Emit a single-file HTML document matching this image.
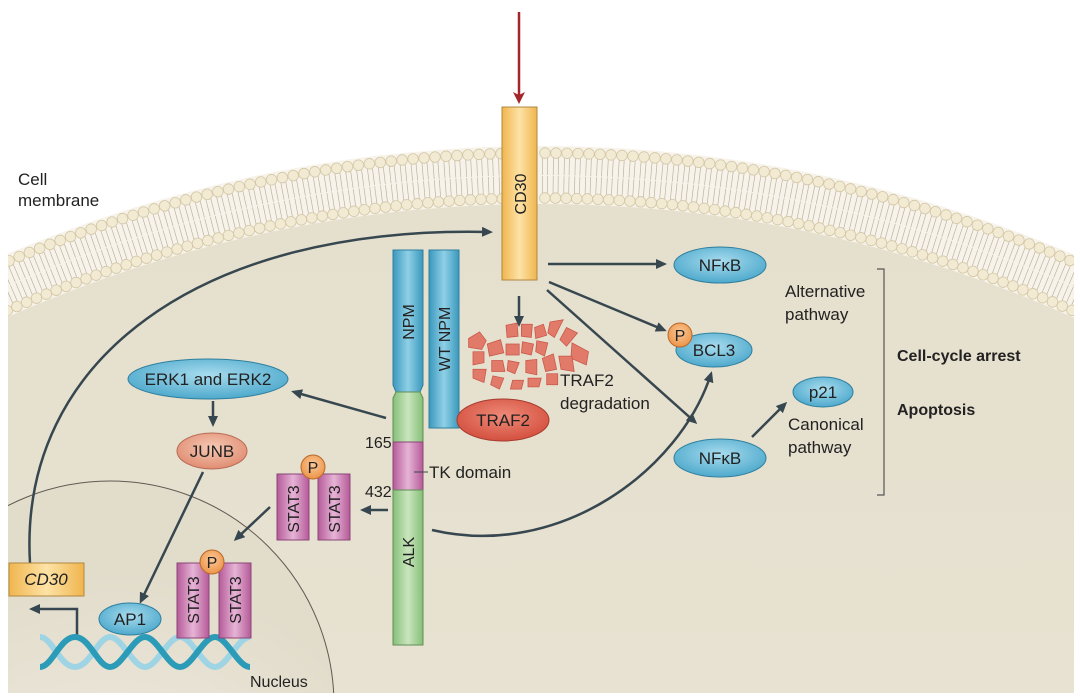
<!DOCTYPE html>
<html><head><meta charset="utf-8"><style>
html,body{margin:0;padding:0;background:#fff;width:1080px;height:697px;overflow:hidden;}
svg{display:block;font-family:"Liberation Sans",sans-serif;}
</style></head><body>
<svg id="s" width="1080" height="697" viewBox="0 0 1080 697" xmlns="http://www.w3.org/2000/svg">
<defs>
<clipPath id="cell"><rect x="8" y="0" width="1066" height="693"/></clipPath>
<linearGradient id="cellg" x1="0" y1="0" x2="0" y2="1"><stop offset="0" stop-color="#e5dfcd"/><stop offset="1" stop-color="#f1ede3"/></linearGradient>
<linearGradient id="og" x1="0" x2="1"><stop offset="0" stop-color="#f0b54e"/><stop offset=".5" stop-color="#fde3a6"/><stop offset="1" stop-color="#f0b54e"/></linearGradient>
<linearGradient id="bg" x1="0" x2="1"><stop offset="0" stop-color="#3a98bd"/><stop offset=".5" stop-color="#8fd0e6"/><stop offset="1" stop-color="#3a98bd"/></linearGradient>
<linearGradient id="gg" x1="0" x2="1"><stop offset="0" stop-color="#86bf78"/><stop offset=".5" stop-color="#c9e6bd"/><stop offset="1" stop-color="#86bf78"/></linearGradient>
<linearGradient id="pg" x1="0" x2="1"><stop offset="0" stop-color="#b55a98"/><stop offset=".5" stop-color="#e6b4d6"/><stop offset="1" stop-color="#b55a98"/></linearGradient>
<radialGradient id="be" cx=".5" cy=".4" r=".6"><stop offset="0" stop-color="#a8dcee"/><stop offset="1" stop-color="#4ea9cc"/></radialGradient>
<radialGradient id="pe" cx=".5" cy=".4" r=".6"><stop offset="0" stop-color="#f6c9b4"/><stop offset="1" stop-color="#e08d72"/></radialGradient>
<radialGradient id="re" cx=".5" cy=".4" r=".6"><stop offset="0" stop-color="#ee8a78"/><stop offset="1" stop-color="#d4503f"/></radialGradient>
<radialGradient id="oc" cx=".5" cy=".4" r=".6"><stop offset="0" stop-color="#fbc89a"/><stop offset="1" stop-color="#ec9447"/></radialGradient>
<radialGradient id="nuc" cx=".5" cy=".9" r=".7"><stop offset="0" stop-color="#f3efe6"/><stop offset="1" stop-color="#e2dccb"/></radialGradient>
<marker id="ah" markerWidth="11" markerHeight="10" refX="8" refY="5" orient="auto" markerUnits="userSpaceOnUse"><path d="M0,0 L11,5 L0,10 Z" fill="#37474f"/></marker>
<marker id="ahr" markerWidth="12" markerHeight="12" refX="8" refY="6" orient="auto" markerUnits="userSpaceOnUse"><path d="M0,0 L12,6 L0,12 L3,6Z" fill="#a3262a"/></marker>
</defs>
<g clip-path="url(#cell)">
<circle cx="540" cy="1514" r="1368" fill="#f7f3ea"/>
<g id="mem"></g>
<circle cx="540" cy="1514" r="1310" fill="url(#cellg)"/>
<circle cx="110" cy="705" r="224" fill="url(#nuc)" stroke="#5f5a52" stroke-width="1"/>
</g>
<line x1="519" y1="12" x2="519" y2="100" stroke="#a3262a" stroke-width="2.5" marker-end="url(#ahr)"/>
<path d="M30,563 C18,360 200,225 490,232" fill="none" stroke="#37474f" stroke-width="2.5" marker-end="url(#ah)"/>
<rect x="502" y="107" width="35" height="173" fill="url(#og)" stroke="#b08840"/>
<text transform="translate(526,194) rotate(-90)" text-anchor="middle" font-size="16" fill="#222">CD30</text>
<g fill="#e27a6a" stroke="#c9574a" stroke-width=".7" transform="translate(528,355) scale(1.1) translate(-520,-355)">
<path d="M466,340 l10,-6 6,8 -4,8 -12,-2z"/><path d="M470,352 l10,0 0,10 -10,2z"/><path d="M483,345 l12,-4 3,12 -13,3z"/>
<path d="M500,328 l10,-2 1,12 -10,1z"/><path d="M514,327 l10,0 -1,12 -9,-1z"/><path d="M526,330 l8,-3 3,10 -10,3z"/>
<path d="M540,325 l12,-2 -8,16 -6,-4z"/><path d="M555,330 l10,5 -10,12 -6,-6z"/><path d="M560,344 l15,8 -2,12 -14,-6z"/>
<path d="M500,345 l12,0 0,10 -12,0z"/><path d="M515,343 l10,2 -2,10 -9,-2z"/><path d="M528,342 l10,2 -3,12 -8,-4z"/>
<path d="M487,360 l10,0 2,10 -12,0z"/><path d="M502,360 l10,2 -4,10 -7,-3z"/><path d="M518,360 l10,-1 0,14 -10,-2z"/>
<path d="M533,358 l10,-4 3,14 -10,2z"/><path d="M548,356 l12,0 2,14 -12,-2z"/><path d="M470,368 l12,0 -2,12 -10,-4z"/>
<path d="M488,374 l10,2 -4,10 -8,-4z"/><path d="M506,378 l10,0 -2,8 -10,0z"/><path d="M520,376 l12,0 -2,8 -10,0z"/><path d="M537,372 l10,0 0,10 -10,0z"/>
</g>
<g stroke="#37474f" stroke-width="2.5" fill="none">
<line x1="548" y1="264" x2="664" y2="264" marker-end="url(#ah)"/>
<line x1="549" y1="282" x2="664" y2="330" marker-end="url(#ah)"/>
<line x1="547" y1="290" x2="695" y2="422" marker-end="url(#ah)"/>
<line x1="519" y1="296" x2="519" y2="324" marker-end="url(#ah)"/>
<line x1="386" y1="418" x2="294" y2="392" marker-end="url(#ah)"/>
<line x1="213" y1="401" x2="213" y2="424" marker-end="url(#ah)"/>
<line x1="203" y1="472" x2="141" y2="601" marker-end="url(#ah)"/>
<line x1="388" y1="510" x2="363" y2="510" marker-end="url(#ah)"/>
<line x1="270" y1="507" x2="236" y2="539" marker-end="url(#ah)"/>
<line x1="752" y1="437" x2="785" y2="404" marker-end="url(#ah)"/>
<path d="M432,530 C560,560 680,470 711,374" marker-end="url(#ah)"/>
<path d="M77,640 L77,609 L32,609" marker-end="url(#ah)"/>
</g>
<path d="M393,250 H423 V385 L420,392 H396 L393,385 Z" fill="url(#bg)" stroke="#2f7f9e"/>
<text transform="translate(414,322) rotate(-90)" text-anchor="middle" font-size="16" fill="#222">NPM</text>
<rect x="429" y="250" width="30" height="178" fill="url(#bg)" stroke="#2f7f9e"/>
<text transform="translate(450,339) rotate(-90)" text-anchor="middle" font-size="16" fill="#222">WT NPM</text>
<path d="M396,392 H420 L423,398 V442 H393 V398Z" fill="url(#gg)" stroke="#5f8f55"/>
<rect x="393" y="442" width="30" height="48" fill="url(#pg)" stroke="#8a4677"/>
<rect x="393" y="490" width="30" height="155" fill="url(#gg)" stroke="#5f8f55"/>
<text transform="translate(414,552) rotate(-90)" text-anchor="middle" font-size="16" fill="#222">ALK</text>
<text x="365" y="448" font-size="16" fill="#222">165</text>
<text x="365" y="497" font-size="16" fill="#222">432</text>
<line x1="414" y1="472" x2="428" y2="472" stroke="#37474f"/>
<text x="429" y="478" font-size="17" fill="#222">TK domain</text>
<ellipse cx="503" cy="420" rx="46" ry="21" fill="url(#re)" stroke="#a63b2f"/>
<text x="503" y="426" text-anchor="middle" font-size="17" fill="#222">TRAF2</text>
<text x="560" y="386" font-size="17" fill="#222">TRAF2</text>
<text x="560" y="409" font-size="17" fill="#222">degradation</text>
<ellipse cx="720" cy="265" rx="46" ry="18" fill="url(#be)" stroke="#2f7f9e"/>
<text x="720" y="271" text-anchor="middle" font-size="17" fill="#222">NFκB</text>
<ellipse cx="714" cy="350" rx="38" ry="17" fill="url(#be)" stroke="#2f7f9e"/>
<text x="714" y="356" text-anchor="middle" font-size="17" fill="#222">BCL3</text>
<circle cx="680" cy="335" r="12" fill="url(#oc)" stroke="#b8692a"/>
<text x="680" y="341" text-anchor="middle" font-size="16" fill="#222">P</text>
<ellipse cx="720" cy="458" rx="46" ry="19" fill="url(#be)" stroke="#2f7f9e"/>
<text x="720" y="464" text-anchor="middle" font-size="17" fill="#222">NFκB</text>
<ellipse cx="823" cy="392" rx="30" ry="15" fill="url(#be)" stroke="#2f7f9e"/>
<text x="823" y="398" text-anchor="middle" font-size="17" fill="#222">p21</text>
<text x="788" y="430" font-size="17" fill="#222">Canonical</text>
<text x="788" y="453" font-size="17" fill="#222">pathway</text>
<text x="785" y="297" font-size="17" fill="#222">Alternative</text>
<text x="785" y="320" font-size="17" fill="#222">pathway</text>
<path d="M877,269 H884 V495 H877" fill="none" stroke="#555" stroke-width="1.2"/>
<text x="897" y="361" font-size="16" font-weight="bold" fill="#222">Cell-cycle arrest</text>
<text x="897" y="415" font-size="16" font-weight="bold" fill="#222">Apoptosis</text>
<ellipse cx="208" cy="379" rx="80" ry="20" fill="url(#be)" stroke="#2f7f9e"/>
<text x="208" y="385" text-anchor="middle" font-size="17" fill="#222">ERK1 and ERK2</text>
<ellipse cx="212" cy="451" rx="35" ry="18" fill="url(#pe)" stroke="#b86a55"/>
<text x="212" y="457" text-anchor="middle" font-size="17" fill="#222">JUNB</text>
<rect x="277" y="474" width="32" height="66" fill="url(#pg)" stroke="#8a4677"/>
<rect x="318" y="474" width="32" height="66" fill="url(#pg)" stroke="#8a4677"/>
<circle cx="313" cy="467" r="12" fill="url(#oc)" stroke="#b8692a"/>
<text x="313" y="473" text-anchor="middle" font-size="16" fill="#222">P</text>
<text transform="translate(299,509) rotate(-90)" text-anchor="middle" font-size="16" fill="#222">STAT3</text>
<text transform="translate(340,509) rotate(-90)" text-anchor="middle" font-size="16" fill="#222">STAT3</text>
<rect x="9" y="563" width="75" height="33" fill="url(#og)" stroke="#b08840"/>
<text x="46" y="585" text-anchor="middle" font-size="17" font-style="italic" fill="#222">CD30</text>
<g fill="none" stroke-width="6">
<path d="M40,637 C52,637 60,667 75,667 S98,637 110,637 S133,667 145,667 S168,637 180,637 S203,667 215,667 S238,637 250,637" stroke="#9fd4e4"/>
<path d="M40,667 C52,667 60,637 75,637 S98,667 110,667 S133,637 145,637 S168,667 180,667 S203,637 215,637 S238,667 250,667" stroke="#2b9bb8"/>
</g>
<ellipse cx="130" cy="619" rx="31" ry="16" fill="url(#be)" stroke="#2f7f9e"/>
<text x="130" y="625" text-anchor="middle" font-size="17" fill="#222">AP1</text>
<rect x="177" y="563" width="32" height="75" fill="url(#pg)" stroke="#8a4677"/>
<rect x="219" y="563" width="32" height="75" fill="url(#pg)" stroke="#8a4677"/>
<circle cx="212" cy="562" r="12" fill="url(#oc)" stroke="#b8692a"/>
<text x="212" y="568" text-anchor="middle" font-size="16" fill="#222">P</text>
<text transform="translate(199,600) rotate(-90)" text-anchor="middle" font-size="16" fill="#222">STAT3</text>
<text transform="translate(241,600) rotate(-90)" text-anchor="middle" font-size="16" fill="#222">STAT3</text>
<text x="250" y="687" font-size="16" fill="#222">Nucleus</text>
<text x="18" y="185" font-size="17" fill="#222">Cell</text>
<text x="18" y="206" font-size="17" fill="#222">membrane</text>
</svg>
<script>
(function(){
var g=document.getElementById('mem'),cx=540,cy=1514,h='';
var step=11/1360;
for(var a=-Math.PI/2-0.7;a<-Math.PI/2+0.7;a+=step){
 var c=Math.cos(a),s=Math.sin(a);
 if(Math.abs(cx+1340*c-519)<16)continue;
 var r1=1361,r2=1316;
 for(var k=-1;k<=1;k+=2){
  var o=k*2.5, px=-s, py=c;
  h+='<path d="M'+(cx+(r1-5)*c+o*px)+','+(cy+(r1-5)*s+o*py)+' l'+(-17*c)+','+(-17*s)+'" stroke="#bdb4a0" stroke-width="0.7"/>';
  h+='<path d="M'+(cx+(r2+5)*c+o*px)+','+(cy+(r2+5)*s+o*py)+' l'+(17*c)+','+(17*s)+'" stroke="#bdb4a0" stroke-width="0.7"/>';
 }
 h+='<circle cx="'+(cx+r1*c)+'" cy="'+(cy+r1*s)+'" r="5.3" fill="#f2ead3" stroke="#d3c7a6" stroke-width="0.8"/>';
 h+='<circle cx="'+(cx+r2*c)+'" cy="'+(cy+r2*s)+'" r="5.3" fill="#f2ead3" stroke="#d3c7a6" stroke-width="0.8"/>';
}
g.innerHTML=h;
})();
</script>
</body></html>
